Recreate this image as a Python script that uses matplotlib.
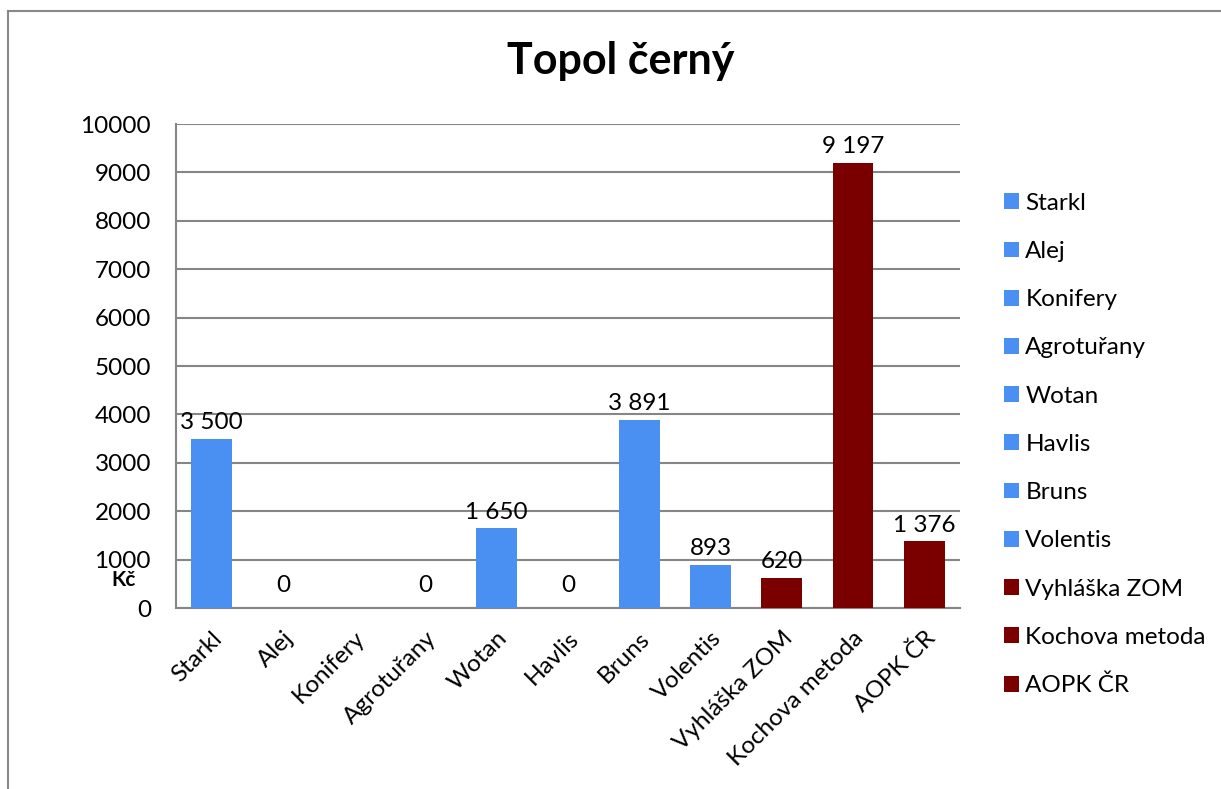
import numpy as np
import matplotlib.pyplot as plt
from matplotlib.lines import Line2D
from matplotlib.patches import Patch

plt.rcParams['font.family'] = ['Lato', 'DejaVu Sans']

categories = ['Starkl', 'Alej', 'Konifery', 'Agrotuřany', 'Wotan', 'Havlis',
              'Bruns', 'Volentis', 'Vyhláška ZOM', 'Kochova metoda', 'AOPK ČR']
values = [3500, 0, np.nan, 0, 1650, 0, 3891, 893, 620, 9197, 1376]
groups = ['shop'] * 8 + ['method'] * 3
yticks = [0, 1000, 2000, 3000, 4000, 5000, 6000, 7000, 8000, 9000, 10000]

colors = {'shop': '#4A90F2', 'method': '#7A0000'}
bar_colors = [colors[g] for g in groups]
fs = 17.5

fig = plt.figure(figsize=(12.21, 7.89), dpi=100)
ax = fig.add_axes([0.1441, 0.2294, 0.6421, 0.6134])

x = np.arange(len(categories))
vals = np.nan_to_num(values)
ax.bar(x, vals, width=0.57, color=bar_colors, zorder=3)

for xi, v in zip(x, values):
    if np.isnan(v):
        continue
    txt = f'{int(v):,}'.replace(',', ' ')
    off = 4 if v > 0 else 9
    ax.annotate(txt, (xi, v), xytext=(0, off), textcoords='offset points',
                ha='center', va='bottom', fontsize=fs, color='black')

ax.set_xlim(-0.5, len(categories) - 0.5)
ax.set_ylim(0, 10000)
ax.set_yticks(yticks)
ax.set_yticklabels([str(t) for t in yticks], fontsize=fs)
ax.set_xticks(x)
ax.set_xticklabels(categories, rotation=45, ha='right', rotation_mode='anchor', fontsize=fs)
ax.tick_params(axis='y', length=0, pad=18)
ax.tick_params(axis='x', length=0, pad=14)

ax.grid(axis='y', color='#868686', linewidth=1.5, zorder=0)
for s in ['top', 'right']:
    ax.spines[s].set_visible(False)
for s in ['left', 'bottom']:
    ax.spines[s].set_color('#868686')
    ax.spines[s].set_linewidth(1.5)

fig.text(0.508, 0.923, 'Topol černý', ha='center', va='center',
         fontsize=31, fontweight='bold')
fig.text(0.091, 0.265, 'Kč', ha='left', va='center', fontsize=15, fontweight='bold')

handles = [Patch(facecolor=c, edgecolor='none') for c in bar_colors]
fig.legend(handles, categories, loc='upper left', bbox_to_anchor=(0.8145, 0.768),
           frameon=False, fontsize=fs, handlelength=0.62, handleheight=0.62,
           handletextpad=0.25, labelspacing=1.12, borderaxespad=0)

# chart frame (only left and top edges visible in the crop)
fig.add_artist(Line2D([0.0066, 0.0066], [0.0, 0.986], color='#888888', linewidth=1.5))
fig.add_artist(Line2D([0.0066, 1.0], [0.986, 0.986], color='#888888', linewidth=1.5))

fig.savefig('out.png', dpi=100)
